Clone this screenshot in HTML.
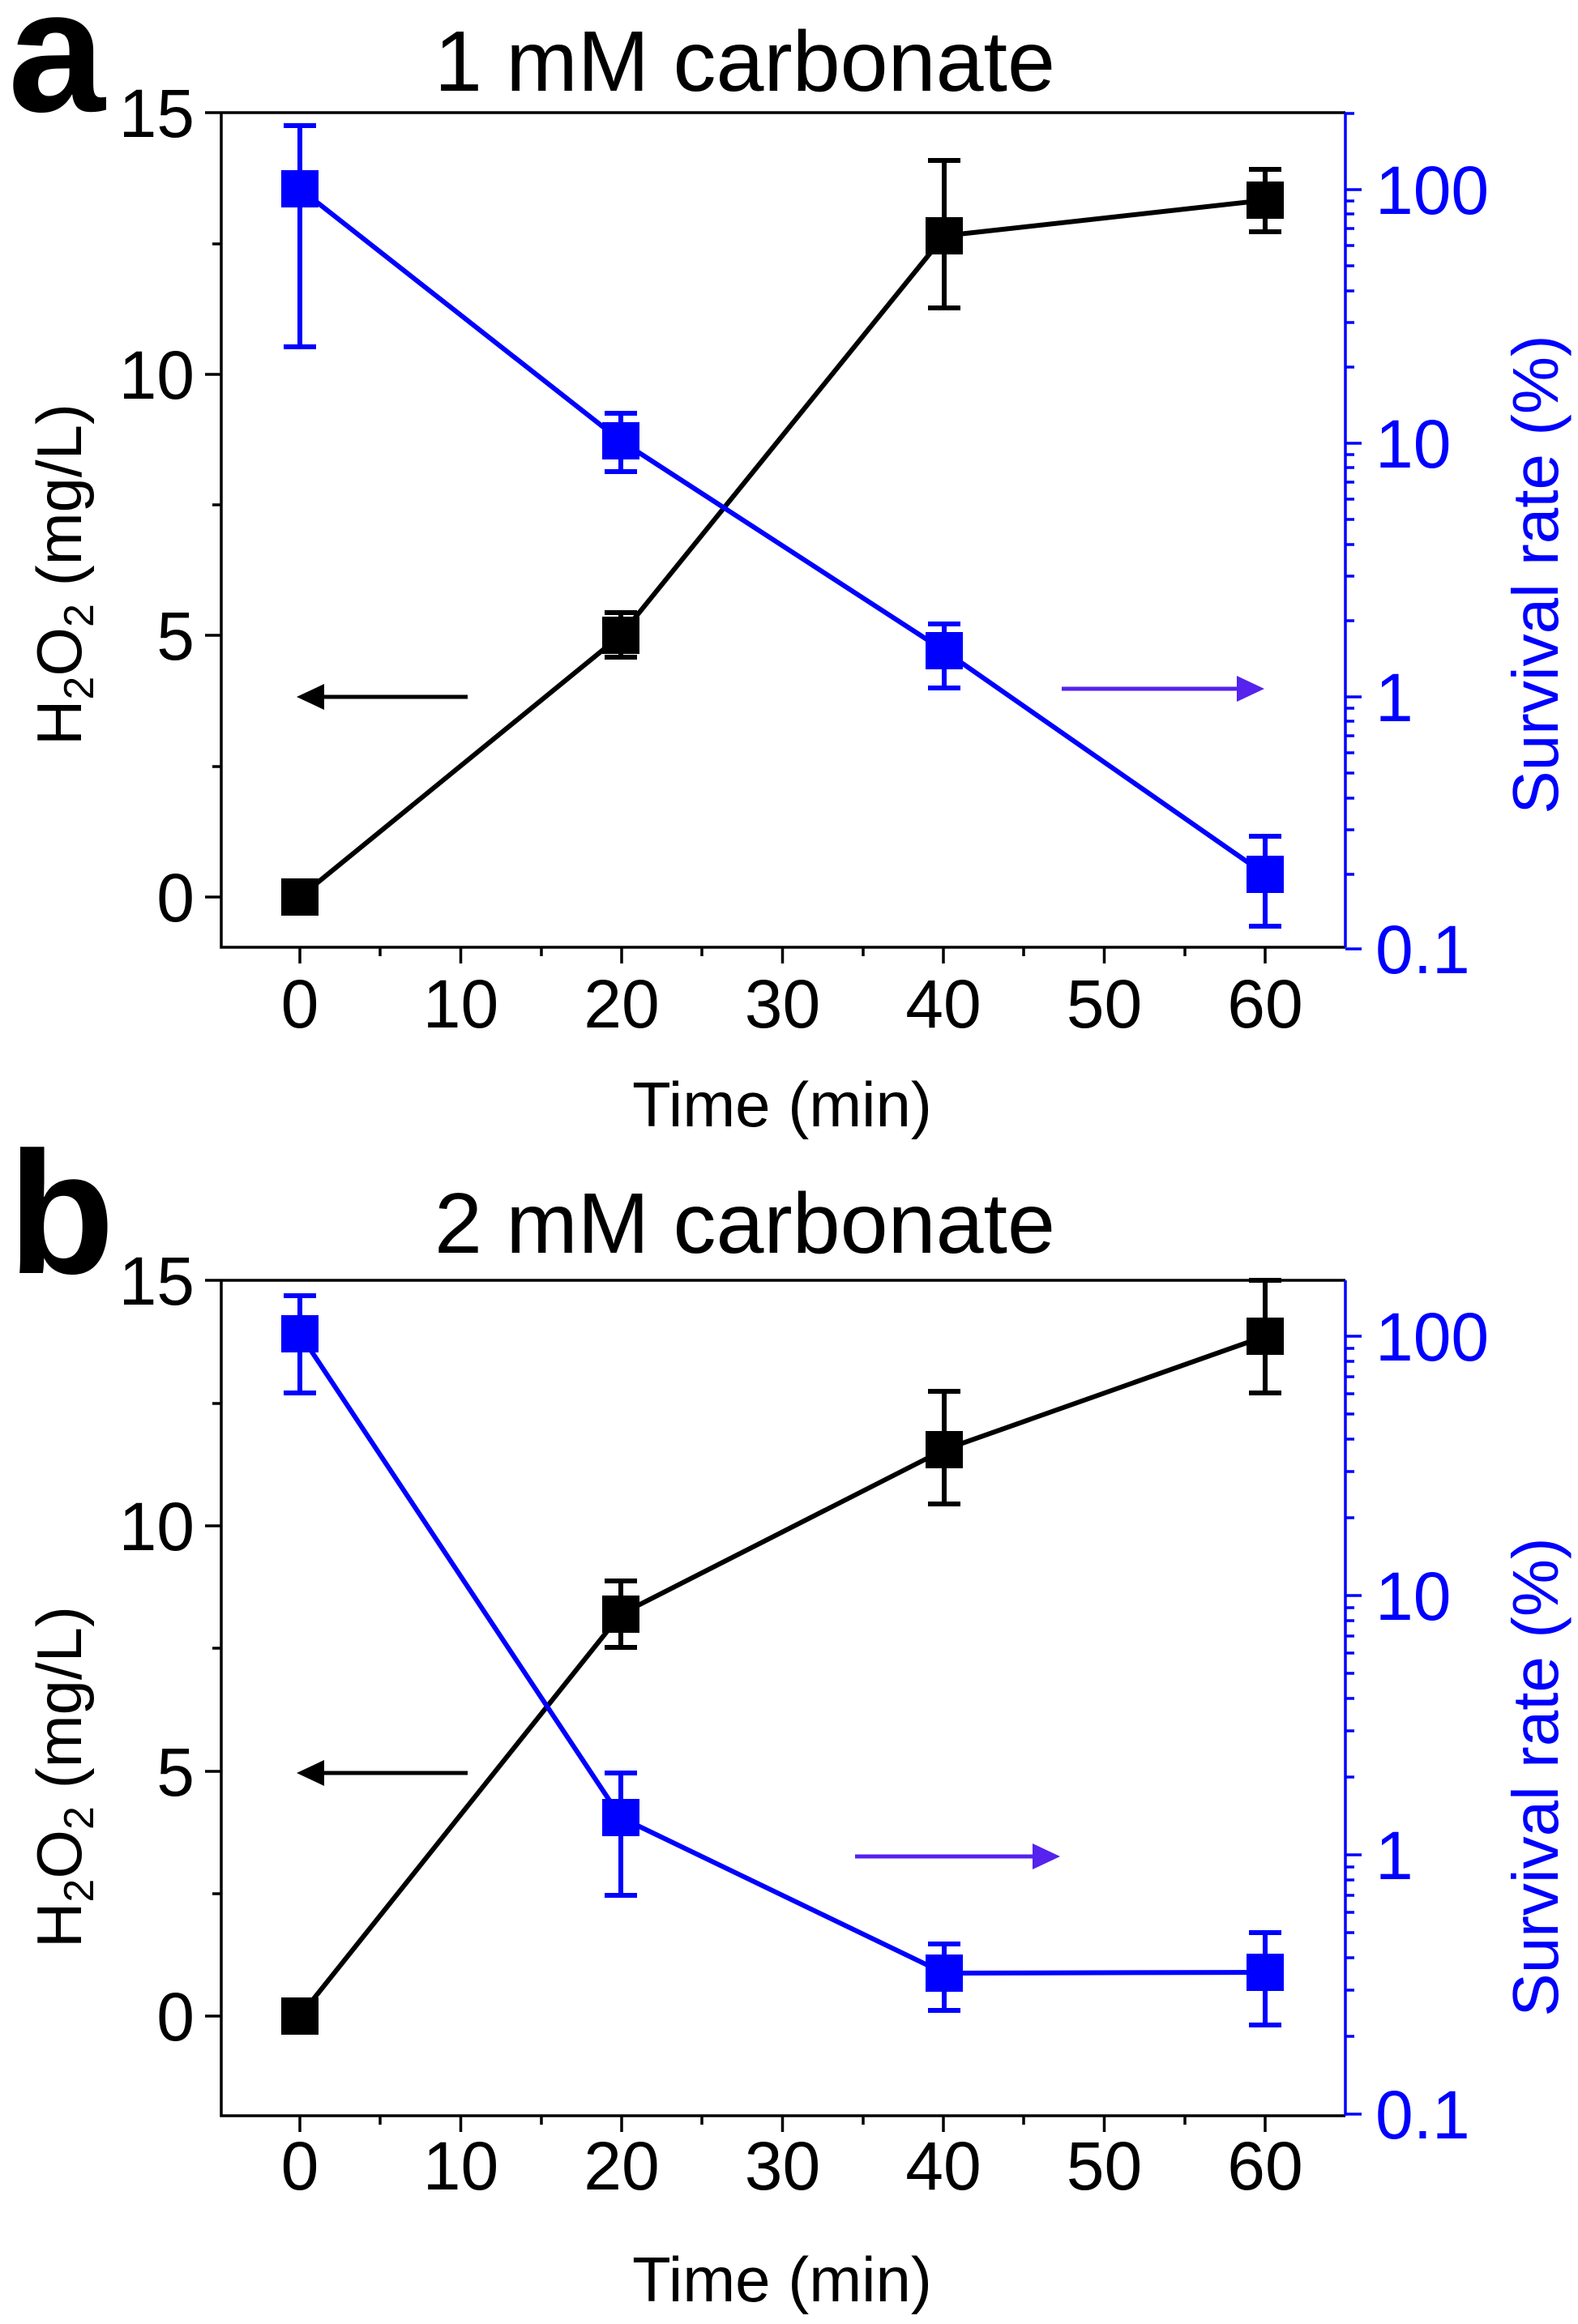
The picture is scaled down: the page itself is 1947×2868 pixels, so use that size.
<!DOCTYPE html>
<html><head><meta charset="utf-8"><style>html,body{margin:0;padding:0;background:#fff}svg{display:block}</style></head>
<body>
<svg xmlns="http://www.w3.org/2000/svg" width="1947" height="2868" viewBox="0 0 1947 2868" font-family="Liberation Sans, Arial, sans-serif">
<rect width="1947" height="2868" fill="#fff"/>

<!-- ================= PANEL A ================= -->
<text x="10" y="137" font-size="215" font-weight="bold">a</text>
<text x="919" y="112" font-size="106" text-anchor="middle">1 mM carbonate</text>
<g stroke-width="3.5" fill="none">
<path d="M273 139 V1169 H1660" stroke="#000"/>
<path d="M273 139 H1660" stroke="#000"/>
<path d="M1660 139 V1169" stroke="#0000ff"/>
</g>
<g stroke="#000" stroke-width="3.5">
<path d="M370 1169v20M568.5 1169v20M767 1169v20M965.5 1169v20M1164 1169v20M1362.5 1169v20M1561 1169v20"/>
<path d="M469 1169v11M668 1169v11M866 1169v11M1065 1169v11M1263 1169v11M1462 1169v11"/>
<path d="M273 1107h-20M273 784h-20M273 462h-20M273 139h-20"/>
<path d="M273 946h-11M273 623h-11M273 301h-11"/>
</g>
<g stroke="#0000ff" stroke-width="3.5">
<path d="M1660 1171h20M1660 860h20M1660 547h20M1660 234h20"/>
<path d="M1660 1079h11M1660 1024h11M1660 985h11M1660 954h11M1660 929h11M1660 908h11M1660 890h11M1660 874h11M1660 766h11M1660 711h11M1660 672h11M1660 641h11M1660 616h11M1660 595h11M1660 577h11M1660 561h11M1660 453h11M1660 398h11M1660 359h11M1660 328h11M1660 303h11M1660 282h11M1660 264h11M1660 248h11M1660 140h11"/>
</g>
<g font-size="84" fill="#000">
<g text-anchor="end">
<text x="240" y="1137">0</text><text x="240" y="814">5</text><text x="240" y="492">10</text><text x="240" y="169">15</text>
</g>
<g text-anchor="middle">
<text x="370" y="1268">0</text><text x="568.5" y="1268">10</text><text x="767" y="1268">20</text><text x="965.5" y="1268">30</text><text x="1164" y="1268">40</text><text x="1362.5" y="1268">50</text><text x="1561" y="1268">60</text>
</g>
</g>
<g font-size="84" fill="#0000ff">
<text x="1697" y="1201">0.1</text><text x="1697" y="890">1</text><text x="1697" y="577">10</text><text x="1697" y="264">100</text>
</g>
<text x="965" y="1390" font-size="78" text-anchor="middle">Time (min)</text>
<text transform="translate(100 709) rotate(-90)" font-size="78" text-anchor="middle">H<tspan font-size="52" dy="15">2</tspan><tspan dy="-15">O</tspan><tspan font-size="52" dy="15">2</tspan><tspan dy="-15"> (mg/L)</tspan></text>
<text transform="translate(1922 709) rotate(-90)" font-size="80" text-anchor="middle" fill="#0000ff">Survival rate (%)</text>
<g stroke="#000" stroke-width="6" fill="none">
<polyline points="370,1107 766,784 1165,291 1561,247"/>
<path d="M766 756V811M746 756h40M746 811h40"/>
<path d="M1165 198V380M1145 198h40M1145 380h40"/>
<path d="M1561 209V286M1541 209h40M1541 286h40"/>
</g>
<g fill="#000">
<rect x="347" y="1084" width="46" height="46"/><rect x="743" y="761" width="46" height="46"/><rect x="1142" y="268" width="46" height="46"/><rect x="1538" y="224" width="46" height="46"/>
</g>
<g stroke="#0000ff" stroke-width="6" fill="none">
<polyline points="370,233 766,544 1165,803 1561,1079"/>
<path d="M370 155V428M350 155h40M350 428h40"/>
<path d="M766 510V582M746 510h40M746 582h40"/>
<path d="M1165 770V849M1145 770h40M1145 849h40"/>
<path d="M1561 1032V1143M1541 1032h40M1541 1143h40"/>
</g>
<g fill="#0000ff">
<rect x="347" y="210" width="46" height="46"/><rect x="743" y="521" width="46" height="46"/><rect x="1142" y="780" width="46" height="46"/><rect x="1538" y="1056" width="46" height="46"/>
</g>
<path d="M577 860H395" stroke="#000" stroke-width="5"/>
<path d="M366 860l34 -16v32z" fill="#000"/>
<path d="M1310 850H1530" stroke="#5522ee" stroke-width="5"/>
<path d="M1560 850l-34 -16v32z" fill="#5522ee"/>

<!-- ================= PANEL B ================= -->
<text x="10" y="1571" font-size="215" font-weight="bold">b</text>
<text x="919" y="1546" font-size="106" text-anchor="middle">2 mM carbonate</text>
<g stroke-width="3.5" fill="none">
<path d="M273 1580 V2611 H1660" stroke="#000"/>
<path d="M273 1580 H1660" stroke="#000"/>
<path d="M1660 1580 V2611" stroke="#0000ff"/>
</g>
<g stroke="#000" stroke-width="3.5">
<path d="M370 2611v20M568.5 2611v20M767 2611v20M965.5 2611v20M1164 2611v20M1362.5 2611v20M1561 2611v20"/>
<path d="M469 2611v11M668 2611v11M866 2611v11M1065 2611v11M1263 2611v11M1462 2611v11"/>
<path d="M273 2488h-20M273 2186h-20M273 1883h-20M273 1580h-20"/>
<path d="M273 2337h-11M273 2034h-11M273 1732h-11"/>
</g>
<g stroke="#0000ff" stroke-width="3.5">
<path d="M1660 2609h20M1660 2289h20M1660 1969h20M1660 1649h20"/>
<path d="M1660 2513h11M1660 2456h11M1660 2416h11M1660 2385h11M1660 2360h11M1660 2339h11M1660 2320h11M1660 2304h11M1660 2193h11M1660 2136h11M1660 2096h11M1660 2065h11M1660 2040h11M1660 2019h11M1660 2000h11M1660 1984h11M1660 1873h11M1660 1816h11M1660 1776h11M1660 1745h11M1660 1720h11M1660 1699h11M1660 1680h11M1660 1664h11"/>
</g>
<g font-size="84" fill="#000">
<g text-anchor="end">
<text x="240" y="2518">0</text><text x="240" y="2216">5</text><text x="240" y="1913">10</text><text x="240" y="1610">15</text>
</g>
<g text-anchor="middle">
<text x="370" y="2702">0</text><text x="568.5" y="2702">10</text><text x="767" y="2702">20</text><text x="965.5" y="2702">30</text><text x="1164" y="2702">40</text><text x="1362.5" y="2702">50</text><text x="1561" y="2702">60</text>
</g>
</g>
<g font-size="84" fill="#0000ff">
<text x="1697" y="2639">0.1</text><text x="1697" y="2319">1</text><text x="1697" y="1999">10</text><text x="1697" y="1679">100</text>
</g>
<text x="965" y="2840" font-size="78" text-anchor="middle">Time (min)</text>
<text transform="translate(100 2193) rotate(-90)" font-size="78" text-anchor="middle">H<tspan font-size="52" dy="15">2</tspan><tspan dy="-15">O</tspan><tspan font-size="52" dy="15">2</tspan><tspan dy="-15"> (mg/L)</tspan></text>
<text transform="translate(1922 2193) rotate(-90)" font-size="80" text-anchor="middle" fill="#0000ff">Survival rate (%)</text>
<g stroke="#000" stroke-width="6" fill="none">
<polyline points="370,2488 766,1992 1165,1789 1561,1649"/>
<path d="M766 1951V2033M746 1951h40M746 2033h40"/>
<path d="M1165 1717V1856M1145 1717h40M1145 1856h40"/>
<path d="M1561 1580V1719M1541 1580h40M1541 1719h40"/>
</g>
<g fill="#000">
<rect x="347" y="2465" width="46" height="46"/><rect x="743" y="1969" width="46" height="46"/><rect x="1142" y="1766" width="46" height="46"/><rect x="1538" y="1626" width="46" height="46"/>
</g>
<g stroke="#0000ff" stroke-width="6" fill="none">
<polyline points="370,1646 766,2243 1165,2435 1561,2434"/>
<path d="M370 1599V1719M350 1599h40M350 1719h40"/>
<path d="M766 2188V2339M746 2188h40M746 2339h40"/>
<path d="M1165 2399V2481M1145 2399h40M1145 2481h40"/>
<path d="M1561 2385V2499M1541 2385h40M1541 2499h40"/>
</g>
<g fill="#0000ff">
<rect x="347" y="1623" width="46" height="46"/><rect x="743" y="2220" width="46" height="46"/><rect x="1142" y="2412" width="46" height="46"/><rect x="1538" y="2411" width="46" height="46"/>
</g>
<path d="M577 2188H395" stroke="#000" stroke-width="5"/>
<path d="M366 2188l34 -16v32z" fill="#000"/>
<path d="M1055 2291H1278" stroke="#5522ee" stroke-width="5"/>
<path d="M1308 2291l-34 -16v32z" fill="#5522ee"/>
</svg>
</body></html>
